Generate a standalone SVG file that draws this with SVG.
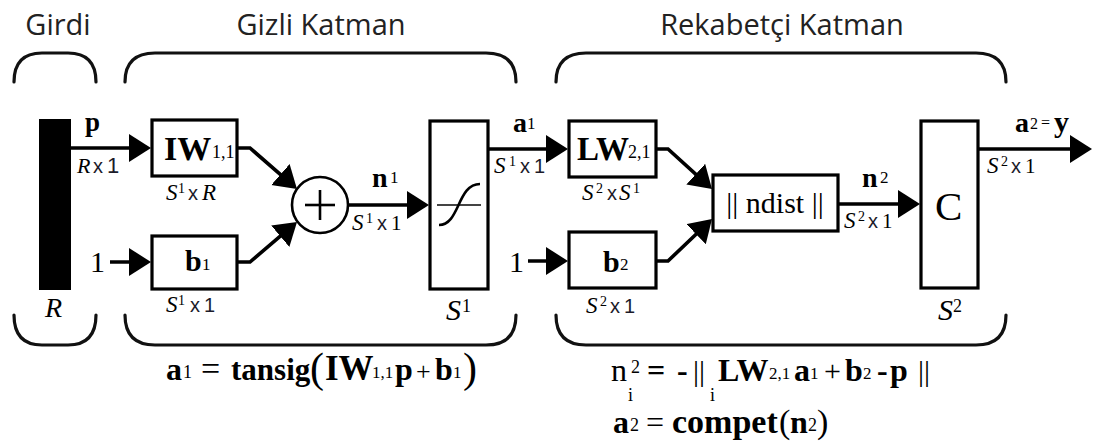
<svg xmlns="http://www.w3.org/2000/svg" width="1093" height="442" viewBox="0 0 1093 442">
<style>
.title{font-family:'Open Sans','Liberation Sans',sans-serif;font-size:29px;fill:#222;text-anchor:middle}
.br{fill:none;stroke:#111;stroke-width:3.2;stroke-linecap:round}
.box{fill:#fff;stroke:#000;stroke-width:3.2}
.ln{fill:none;stroke:#000;stroke-width:3.6}
.s{font-family:'Liberation Serif','Times New Roman',serif;fill:#000}
.b{font-weight:bold}
.i{font-style:italic}
.sn{font-family:'Liberation Sans',Arial,sans-serif}
.dim{fill:#1c1c2a}
</style>
<defs>
<marker id="ah" markerUnits="userSpaceOnUse" markerWidth="24" markerHeight="30" refX="17" refY="14" orient="auto">
<path d="M0,0 L22,14 L0,28 z" fill="#000"/>
</marker>
</defs>

<g id="titles">
<text class="title" x="58" y="35">Girdi</text>
<text class="title" x="321" y="35">Gizli Katman</text>
<text class="title" x="782" y="35">Rekabetçi Katman</text>
</g>

<g id="brackets">
<path class="br" d="M14,82 Q14,53 42,53 L68,53 Q96,53 96,82"/>
<path class="br" d="M125,82 Q125,53 155,53 L486,53 Q516,53 516,82"/>
<path class="br" d="M556,82 Q556,53 586,53 L976,53 Q1006,53 1006,82"/>
<path class="br" d="M14,315 Q14,345 42,345 L68,345 Q96,345 96,315"/>
<path class="br" d="M125,315 Q125,345 155,345 L486,345 Q516,345 516,315"/>
<path class="br" d="M556,315 Q556,345 586,345 L976,345 Q1006,345 1006,315"/>
</g>

<g id="connectors">
<line class="ln" x1="71" y1="148" x2="146" y2="148" marker-end="url(#ah)"/>
<line class="ln" x1="110" y1="262" x2="146" y2="262" marker-end="url(#ah)"/>
<polyline class="ln" points="237,148 250,148 293.2,185.7" marker-end="url(#ah)"/>
<polyline class="ln" points="237,262 250,262 293.2,225.2" marker-end="url(#ah)"/>
<line class="ln" x1="348" y1="205" x2="424" y2="205" marker-end="url(#ah)"/>
<line class="ln" x1="488" y1="149" x2="563" y2="149" marker-end="url(#ah)"/>
<line class="ln" x1="528" y1="261" x2="563" y2="261" marker-end="url(#ah)"/>
<polyline class="ln" points="656,149 668,149 708.3,185.6" marker-end="url(#ah)"/>
<polyline class="ln" points="656,261 668,261 708.4,222.5" marker-end="url(#ah)"/>
<line class="ln" x1="838" y1="204" x2="915" y2="204" marker-end="url(#ah)"/>
<line class="ln" x1="978" y1="149" x2="1087" y2="149" marker-end="url(#ah)"/>
</g>

<g id="input">
<rect x="39" y="119" width="32" height="171" fill="#000"/>
<text class="s i" x="45" y="317" font-size="28">R</text>
<text class="s b" x="85" y="131" font-size="27">p</text>
<text class="dim" y="173"><tspan class="s i" x="77" font-size="22">R</tspan><tspan class="sn" x="93" font-size="20">x</tspan><tspan class="sn" x="107" font-size="22">1</tspan></text>
<text class="s" x="90" y="272" font-size="30">1</text>
</g>

<g id="IW">
<rect class="box" x="152" y="120" width="85" height="56"/>
<text class="s" y="160"><tspan class="b" x="164" font-size="34">IW</tspan><tspan x="212" y="158" font-size="18">1,1</tspan></text>
<text class="dim" y="200"><tspan class="s i" x="166" font-size="23">S</tspan><tspan class="s" x="178" y="193" font-size="14">1</tspan><tspan class="sn" x="188" y="200" font-size="20">x</tspan><tspan class="s i" x="202" font-size="23">R</tspan></text>
</g>

<g id="b1">
<rect class="box" x="152" y="236" width="85" height="53"/>
<text class="s" y="271"><tspan class="b" x="185" font-size="30">b</tspan><tspan x="202" y="270" font-size="17">1</tspan></text>
<text class="dim" y="312"><tspan class="s i" x="166" font-size="23">S</tspan><tspan class="s" x="178" y="305" font-size="14">1</tspan><tspan class="sn" x="190" y="312" font-size="20">x</tspan><tspan class="sn" x="204" font-size="20">1</tspan></text>
</g>

<g id="sum">
<circle cx="320" cy="205" r="28" fill="#fff" stroke="#000" stroke-width="2.6"/>
<line x1="305" y1="205" x2="335" y2="205" stroke="#000" stroke-width="2.6"/>
<line x1="320" y1="190" x2="320" y2="220" stroke="#000" stroke-width="2.6"/>
<text class="s" y="187"><tspan class="b" x="372" font-size="28">n</tspan><tspan x="390" y="183" font-size="17">1</tspan></text>
<text class="dim" y="230"><tspan class="s i" x="352" font-size="23">S</tspan><tspan class="s" x="366" y="223" font-size="14">1</tspan><tspan class="sn" x="377" y="230" font-size="20">x</tspan><tspan class="s" x="391" font-size="21">1</tspan></text>
</g>

<g id="tansig">
<rect class="box" x="430" y="121" width="58" height="168"/>
<line x1="437" y1="205" x2="481" y2="205" stroke="#444" stroke-width="1.8"/>
<path d="M439,225 C460,225 457,184 480,184" fill="none" stroke="#000" stroke-width="2.6"/>
<text class="s" y="320"><tspan class="i" x="446" font-size="30">S</tspan><tspan x="462" y="312" font-size="18">1</tspan></text>
<text class="s" y="132"><tspan class="b" x="513" font-size="28">a</tspan><tspan x="527" y="129" font-size="17">1</tspan></text>
<text class="dim" y="173"><tspan class="s i" x="494" font-size="23">S</tspan><tspan class="s" x="509" y="166" font-size="14">1</tspan><tspan class="sn" x="520" y="173" font-size="20">x</tspan><tspan class="sn" x="534" font-size="20">1</tspan></text>
</g>

<g id="LW">
<rect class="box" x="569" y="121" width="87" height="56"/>
<text class="s" y="160"><tspan class="b" x="577" font-size="33">LW</tspan><tspan x="628" y="158" font-size="18">2,1</tspan></text>
<text class="dim" y="200"><tspan class="s i" x="582" font-size="23">S</tspan><tspan class="s" x="596" y="193" font-size="14">2</tspan><tspan class="sn" x="607" y="200" font-size="20">x</tspan><tspan class="s i" x="619" font-size="23">S</tspan><tspan class="s" x="633" y="193" font-size="14">1</tspan></text>
</g>

<g id="b2">
<text class="s" x="509" y="272" font-size="30">1</text>
<rect class="box" x="569" y="232" width="87" height="56"/>
<text class="s" y="272"><tspan class="b" x="603" font-size="30">b</tspan><tspan x="620" y="270" font-size="17">2</tspan></text>
<text class="dim" y="313"><tspan class="s i" x="586" font-size="23">S</tspan><tspan class="s" x="600" y="306" font-size="14">2</tspan><tspan class="sn" x="610" y="313" font-size="20">x</tspan><tspan class="sn" x="624" font-size="20">1</tspan></text>
</g>

<g id="ndist">
<rect class="box" x="713" y="175" width="125" height="56"/>
<text class="s" x="775" y="213" font-size="30" text-anchor="middle">|| ndist ||</text>
<text class="s" y="187"><tspan class="b" x="862" font-size="28">n</tspan><tspan x="880" y="183" font-size="17">2</tspan></text>
<text class="dim" y="228"><tspan class="s i" x="844" font-size="23">S</tspan><tspan class="s" x="858" y="221" font-size="14">2</tspan><tspan class="sn" x="868" y="228" font-size="20">x</tspan><tspan class="s" x="882" font-size="21">1</tspan></text>
</g>

<g id="compet">
<rect class="box" x="921" y="121" width="57" height="167"/>
<text class="s" x="935" y="220" font-size="41">C</text>
<text class="s" y="320"><tspan class="i" x="938" font-size="30">S</tspan><tspan x="953" y="312" font-size="18">2</tspan></text>
<text class="s" y="132"><tspan class="b" x="1015" font-size="28">a</tspan><tspan x="1030" y="129" font-size="16">2</tspan><tspan x="1041" y="128" font-size="16">=</tspan><tspan class="b" x="1054" y="132" font-size="30">y</tspan></text>
<text class="dim" y="173"><tspan class="s i" x="987" font-size="23">S</tspan><tspan class="s" x="1001" y="166" font-size="14">2</tspan><tspan class="sn" x="1011" y="173" font-size="20">x</tspan><tspan class="s" x="1025" font-size="21">1</tspan></text>
</g>

<g id="formulas">
<text class="s" y="380"><tspan class="b" x="166" font-size="32">a</tspan><tspan x="183" y="378" font-size="18">1</tspan><tspan x="201" y="380" font-size="34">=</tspan><tspan class="b" x="231" font-size="31">tansig</tspan><tspan x="310" y="382" font-size="42">(</tspan><tspan class="b" x="325" y="380" font-size="35">IW</tspan><tspan x="372" y="378" font-size="17">1,1</tspan><tspan class="b" x="395" y="380" font-size="32">p</tspan><tspan x="416" font-size="26">+</tspan><tspan class="b" x="435" font-size="32">b</tspan><tspan x="453" y="378" font-size="17">1</tspan><tspan x="463" y="382" font-size="42">)</tspan></text>
<text class="s" y="381"><tspan x="611" font-size="32">n</tspan><tspan x="631" y="373" font-size="18">2</tspan><tspan class="b" x="647" y="381" font-size="32">=</tspan><tspan class="b" x="677" font-size="32">-</tspan><tspan x="693" font-size="30">||</tspan><tspan class="b" x="718" font-size="32">LW</tspan><tspan x="769" y="379" font-size="17">2,1</tspan><tspan class="b" x="794" y="381" font-size="32">a</tspan><tspan x="810" y="379" font-size="17">1</tspan><tspan x="824" y="381" font-size="30">+</tspan><tspan class="b" x="845" font-size="32">b</tspan><tspan x="863" y="379" font-size="17">2</tspan><tspan class="b" x="877" y="381" font-size="32">-</tspan><tspan class="b" x="890" font-size="32">p</tspan><tspan x="918" font-size="30">||</tspan></text>
<text class="s" x="628" y="401" font-size="18">i</text>
<text class="s" x="710" y="401" font-size="18">i</text>
<text class="s" y="433"><tspan class="b" x="613" font-size="32">a</tspan><tspan x="630" y="431" font-size="18">2</tspan><tspan x="646" y="433" font-size="32">=</tspan><tspan class="b" x="672" font-size="34">compet</tspan><tspan x="779" font-size="34">(</tspan><tspan class="b" x="790" font-size="32">n</tspan><tspan x="808" y="431" font-size="18">2</tspan><tspan x="817" y="433" font-size="34">)</tspan></text>
</g>
</svg>
